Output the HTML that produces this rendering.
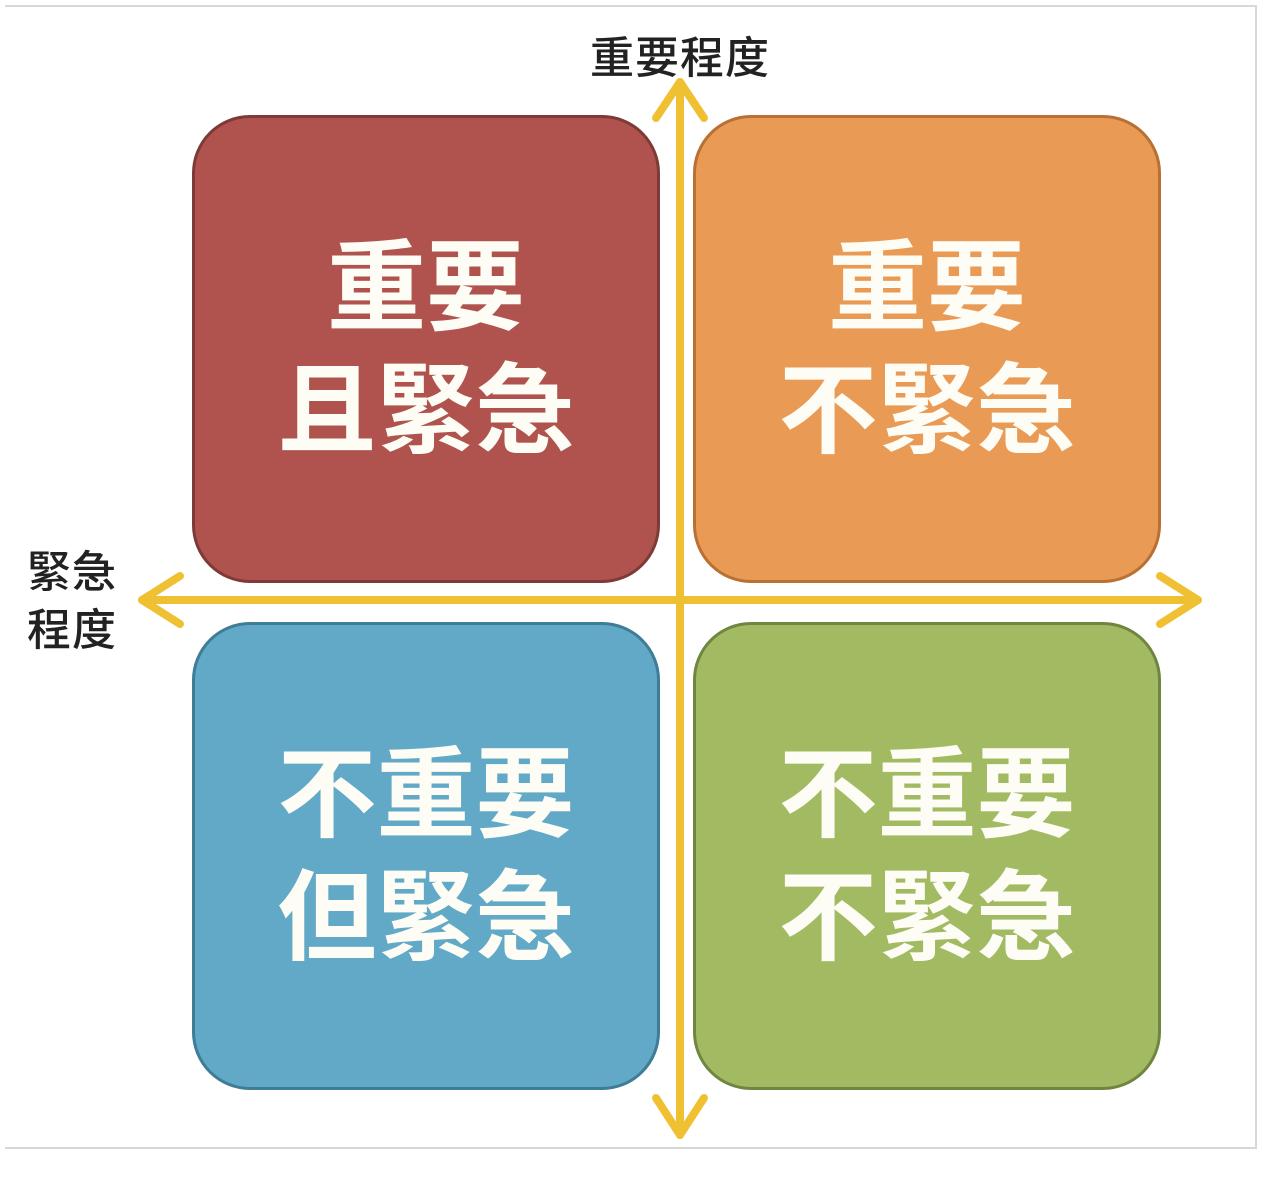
<!DOCTYPE html>
<html><head><meta charset="utf-8"><style>
body{margin:0;background:#fff;width:1278px;height:1180px;position:relative;overflow:hidden;font-family:"Liberation Sans","Noto Sans CJK TC",sans-serif}
.frame{position:absolute;left:5px;top:5px;width:1252px;height:1144px;border:2px solid #d8d8d8;border-left:none;box-sizing:border-box}
.b{position:absolute;width:468px;height:468px;border-radius:58px;box-sizing:border-box;border:3px solid;color:#fdfdf5;font-weight:bold;font-size:99px;line-height:123px;text-align:center;display:flex;flex-direction:column;justify-content:center}
.lab{position:absolute;color:#222;font-weight:500}
</style></head><body>
<div class="frame"></div>
<div class="b" style="left:192px;top:115px;background:#b0534e;border-color:#7e3a36">重要<br>且緊急</div>
<div class="b" style="left:693px;top:115px;background:#e99a55;border-color:#b87033">重要<br>不緊急</div>
<div class="b" style="left:192px;top:622px;background:#62a9c7;border-color:#3f7c96">不重要<br>但緊急</div>
<div class="b" style="left:693px;top:622px;background:#a2bb63;border-color:#708640">不重要<br>不緊急</div>
<svg style="position:absolute;left:0;top:0" width="1278" height="1180">
<g stroke="#f0c033" stroke-width="8" fill="none" stroke-linecap="round" stroke-linejoin="round">
<line x1="680" y1="82" x2="680" y2="1135"/>
<line x1="142" y1="600" x2="1198" y2="600"/>
<polyline points="656,118 680,82 704,118"/>
<polyline points="656,1098 680,1135 704,1098"/>
<polyline points="180,576 142,600 180,624"/>
<polyline points="1160,576 1198,600 1160,624"/>
</g></svg>
<div class="lab" style="left:590px;top:22px;font-size:44px;letter-spacing:1px">重要程度</div>
<div class="lab" style="left:27px;top:544px;font-size:44px;line-height:58px;letter-spacing:1px">緊急<br>程度</div>
</body></html>
